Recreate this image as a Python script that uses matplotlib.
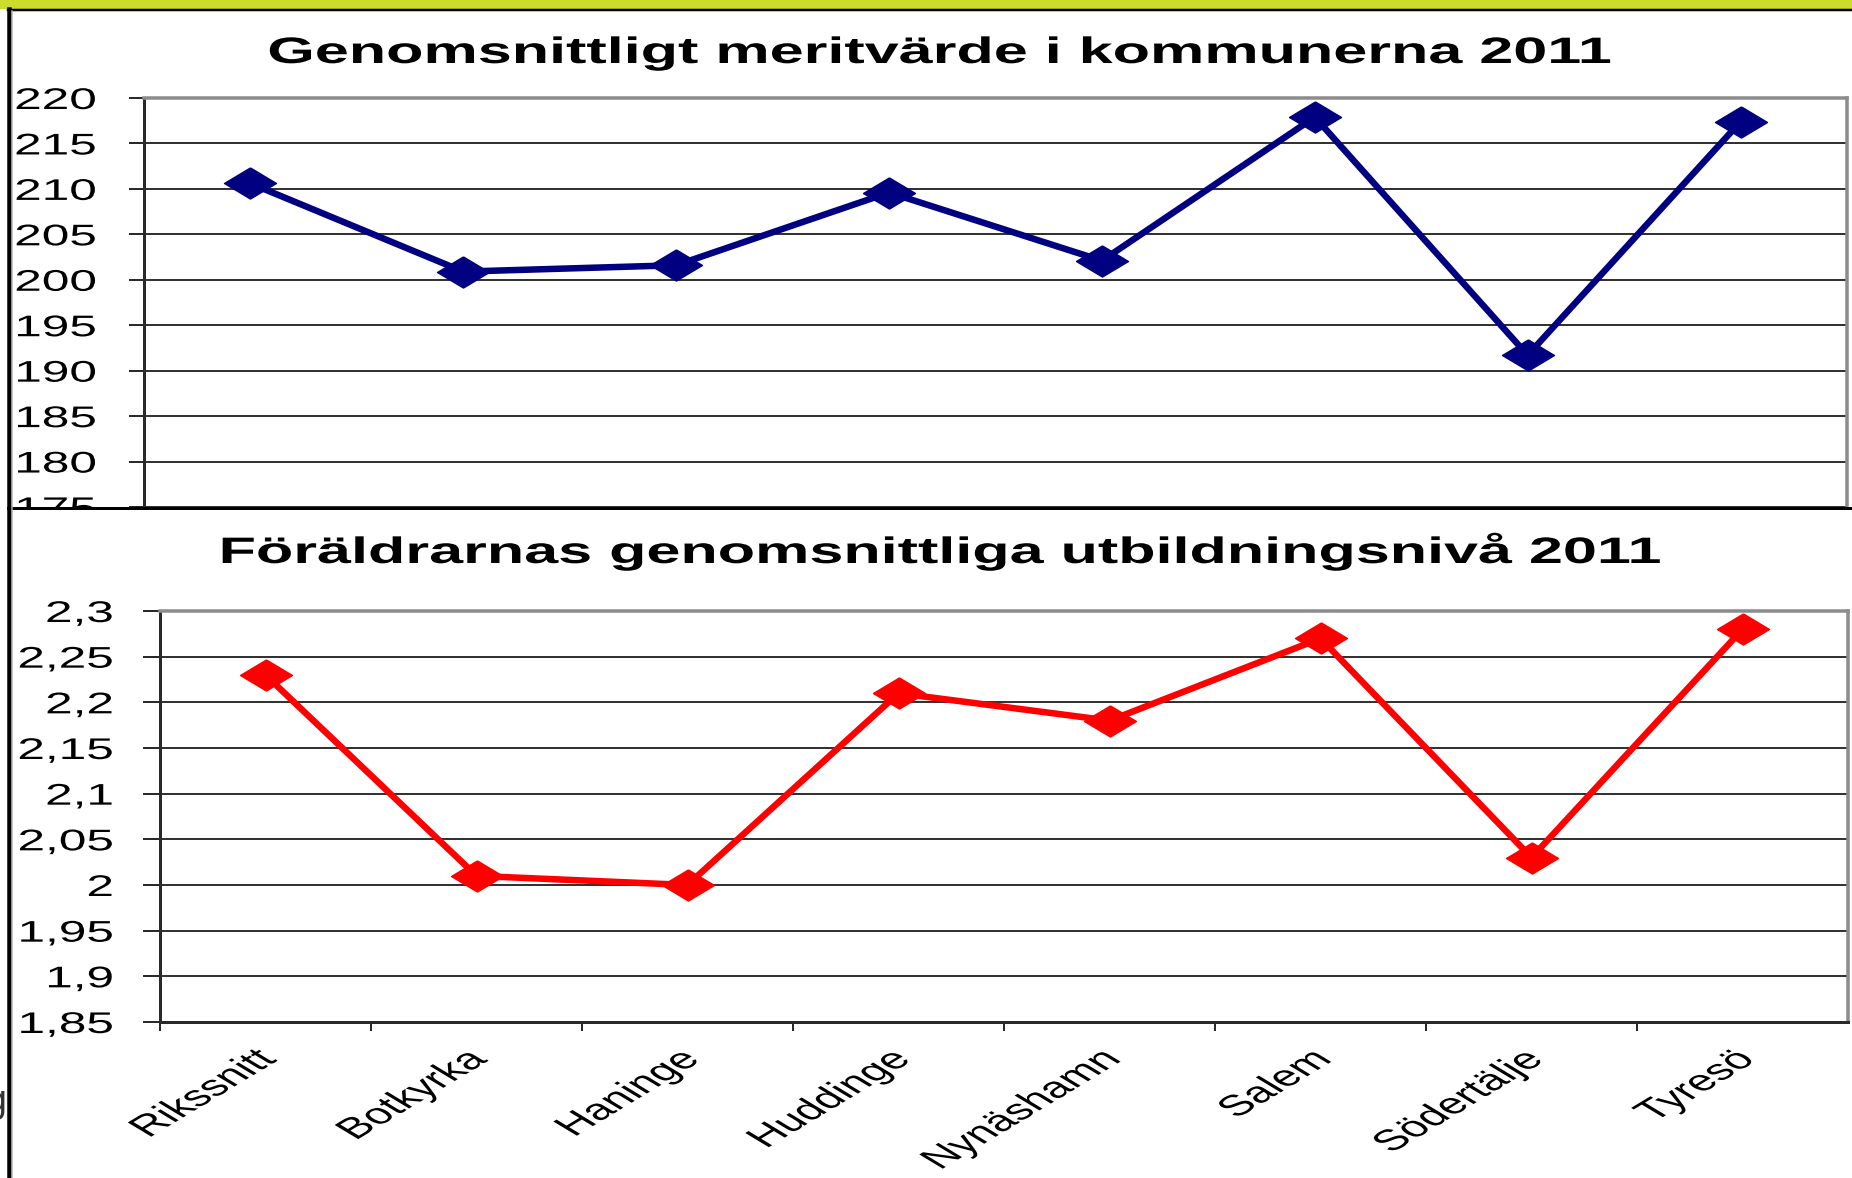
import matplotlib
matplotlib.use("Agg")
import matplotlib.pyplot as plt
from matplotlib.patheffects import AbstractPathEffect
from matplotlib.transforms import Affine2D
from matplotlib.lines import Line2D
from matplotlib.patches import Rectangle

plt.rcParams['font.family'] = ['Liberation Sans', 'DejaVu Sans']

# data
kommuner = ['Rikssnitt', 'Botkyrka', 'Haninge', 'Huddinge',
            'Nynäshamn', 'Salem', 'Södertälje', 'Tyresö']
meritvarde = [210.6, 200.9, 201.6, 209.6, 202.1, 217.9, 191.7, 217.4]
utbildning = [2.23, 2.01, 2.00, 2.21, 2.18, 2.27, 2.03, 2.28]

merit_ticks = [175, 180, 185, 190, 195, 200, 205, 210, 215, 220]
merit_labels = ['175', '180', '185', '190', '195', '200', '205', '210', '215', '220']
utb_ticks = [1.85, 1.9, 1.95, 2.0, 2.05, 2.1, 2.15, 2.2, 2.25, 2.3]
utb_labels = ['1,85', '1,9', '1,95', '2', '2,05', '2,1', '2,15', '2,2', '2,25', '2,3']

titel_1 = 'Genomsnittligt meritvärde i kommunerna 2011'
titel_2 = 'Föräldrarnas genomsnittliga utbildningsnivå 2011'

W, H = 1852, 1178
PX = 72 / 100          # points per pixel at dpi 100
SX = 1.66              # the original picture is stretched sideways


class Stretch(AbstractPathEffect):
    """draw text stretched horizontally around one side of its outline"""
    def __init__(self, sx, anchor='center'):
        super().__init__()
        self.sx = sx
        self.anchor = anchor

    def draw_path(self, renderer, gc, tpath, affine, rgbFace=None):
        bb = tpath.get_extents(affine)
        x0 = {'left': bb.x0, 'right': bb.x1, 'center': (bb.x0 + bb.x1) / 2}[self.anchor]
        affine = affine + Affine2D().translate(-x0, 0).scale(self.sx, 1).translate(x0, 0)
        renderer.draw_path(gc, tpath, affine, rgbFace)


def box(l, t, r, b):
    return [l / W, 1 - b / H, (r - l) / W, (b - t) / H]


def fx(x):
    return x / W


def fy(y):
    return 1 - y / H


diamond = [(0, 1), (1.67, 0), (0, -1), (-1.67, 0), (0, 1)]
grid_c = '#333333'
border_c = '#8c8c8c'
line_w = 6.5 * PX
mark_s = 52 * PX

fig = plt.figure(figsize=(W / 100, H / 100), dpi=100)
fig.patch.set_facecolor('white')

# green band of the slide behind the charts
fig.add_artist(Rectangle((0, fy(8.5)), 1, 8.5 / H, transform=fig.transFigure,
                         facecolor='#cddc2b', edgecolor='none', zorder=0))

# ---- top chart ----
ax1 = fig.add_axes(box(144, 98, 1847, 507), zorder=1)
x = list(range(len(kommuner)))
ax1.plot(x, meritvarde, color='#000080', lw=line_w, marker=diamond, ms=mark_s,
         clip_on=False, zorder=3)
ax1.set_xlim(-0.5, 7.5)
ax1.set_ylim(175, 220)
ax1.set_yticks(merit_ticks, merit_labels)
ax1.set_xticks([])
ax1.yaxis.grid(True, color=grid_c, lw=2 * PX)
ax1.set_axisbelow(True)
ax1.spines['bottom'].set_visible(False)
ax1.spines['left'].set_color('#2a2a2a')
ax1.spines['left'].set_linewidth(3 * PX)
for s in ['top', 'right']:
    ax1.spines[s].set_color(border_c)
    ax1.spines[s].set_linewidth(3.5 * PX)
ax1.tick_params(axis='y', length=15 * PX, width=2 * PX, color='#2a2a2a',
                pad=33 * PX, labelsize=21.5)
for lab in ax1.get_yticklabels():
    lab.set_path_effects([Stretch(SX, 'right')])

fig.text(fx(939), fy(63), titel_1, ha='center', va='baseline', fontsize=26.5,
         fontweight='bold', path_effects=[Stretch(SX, 'center')], zorder=1)

# ---- bottom chart, lying on top of the first one ----
fig.add_artist(Rectangle((fx(8), 0), 1, fy(508), transform=fig.transFigure,
                         facecolor='white', edgecolor='none', zorder=2))

ax2 = fig.add_axes(box(160, 611, 1848, 1022), zorder=3)
ax2.plot(x, utbildning, color='#ff0000', lw=line_w, marker=diamond, ms=mark_s,
         clip_on=False, zorder=3)
ax2.set_xlim(-0.5, 7.5)
ax2.set_ylim(1.85, 2.3)
ax2.set_yticks(utb_ticks, utb_labels)
ax2.set_xticks([i - 0.5 for i in x])
ax2.set_xticklabels([])
ax2.set_xticks([i + 0.03 for i in x], kommuner, minor=True, rotation=45,
               ha='right', va='center', rotation_mode='anchor')
ax2.yaxis.grid(True, color=grid_c, lw=2 * PX)
ax2.set_axisbelow(True)
for s in ['left', 'bottom']:
    ax2.spines[s].set_color('#2a2a2a')
    ax2.spines[s].set_linewidth(3 * PX)
for s in ['top', 'right']:
    ax2.spines[s].set_color(border_c)
    ax2.spines[s].set_linewidth(3.5 * PX)
ax2.tick_params(axis='y', length=17 * PX, width=2 * PX, color='#2a2a2a',
                pad=30 * PX, labelsize=21.5)
ax2.tick_params(axis='x', which='major', length=9 * PX, width=2 * PX, color='#2a2a2a')
ax2.tick_params(axis='x', which='minor', length=0, pad=33 * PX, labelsize=21)
for lab in ax2.get_yticklabels():
    lab.set_path_effects([Stretch(SX, 'right')])
for lab in ax2.get_xticklabels(minor=True):
    lab.set_path_effects([Stretch(SX, 'right')])

fig.text(fx(940), fy(563), titel_2, ha='center', va='baseline', fontsize=26.5,
         fontweight='bold', path_effects=[Stretch(SX, 'center')], zorder=5)

# chart frames
fig.add_artist(Line2D([fx(8), 1], [fy(9.5), fy(9.5)], transform=fig.transFigure,
                      color='black', lw=2.5 * PX, zorder=10))
fig.add_artist(Line2D([fx(8), 1], [fy(508), fy(508)], transform=fig.transFigure,
                      color='black', lw=3 * PX, zorder=10))
fig.add_artist(Line2D([fx(8.5), fx(8.5)], [fy(8.5), 0], transform=fig.transFigure,
                      color='black', lw=4.5 * PX, zorder=10))
fig.add_artist(Line2D([fx(12), fx(12)], [fy(11), 0], transform=fig.transFigure,
                      color='#b0b0b0', lw=1.5 * PX, zorder=10))

# bit of slide text peeking out at the left edge
fig.text(fx(6), fy(1112), 'g', ha='right', va='baseline', fontsize=27,
         color='#333333', zorder=10)

fig.savefig('out.png', dpi=100)
